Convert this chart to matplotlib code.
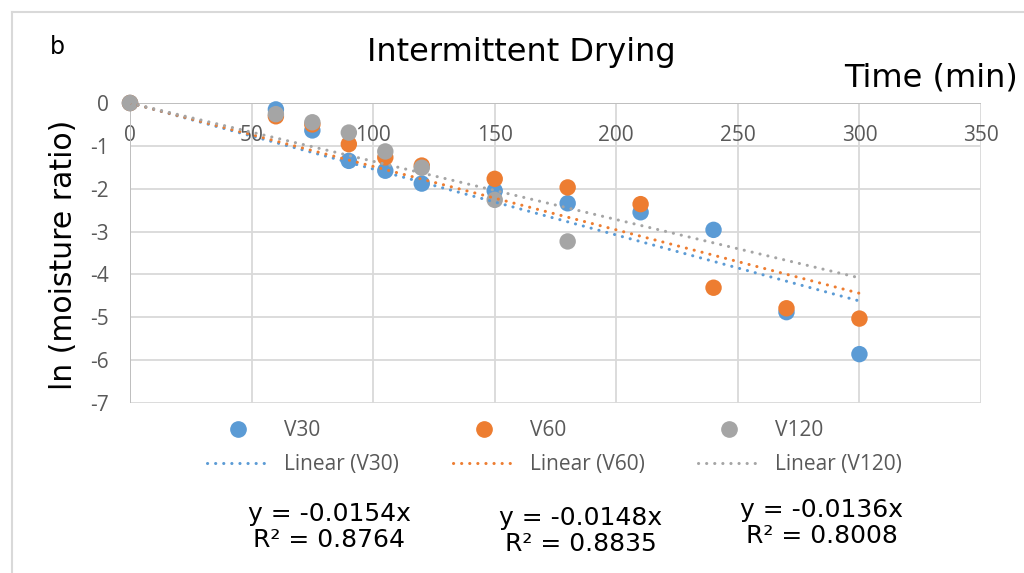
import numpy as np
import matplotlib
matplotlib.use("Agg")
import matplotlib.pyplot as plt
from matplotlib.lines import Line2D

# Messwerte: ln(MR) über der Zeit, intermittierende Trocknung
time_min = [0, 60, 75, 90, 105, 120, 150, 180, 210, 240, 270, 300]
ln_v30 = [0, -0.15, -0.64, -1.35, -1.58, -1.88, -2.05, -2.34, -2.55, -2.96, -4.88, -5.86]
ln_v60 = [0, -0.31, -0.50, -0.96, -1.27, -1.46, -1.77, -1.97, -2.36, -4.31, -4.79, -5.03]
ln_v120 = [0, -0.26, -0.45, -0.69, -1.13, -1.51, -2.26, -3.23, np.nan, np.nan, np.nan, np.nan]

series = ["V30", "V60", "V120"]
slopes = [-0.0154, -0.0148, -0.0136]
r2 = [0.8764, 0.8835, 0.8008]

x_ticks = [0, 50, 100, 150, 200, 250, 300, 350]
y_ticks = [0, -1, -2, -3, -4, -5, -6, -7]

COLORS = ["#5B9BD5", "#ED7D31", "#A5A5A5"]
TXT = "#595959"
GRID = "#D9D9D9"
FONT = ["Open Sans", "DejaVu Sans"]
VERD = ["DejaVu Sans"]
DOTS = (0, (0.05, 2.6))

plt.rcParams["font.family"] = FONT

W, H = 1024, 573
fig = plt.figure(figsize=(W / 100, H / 100), dpi=100)
ax = fig.add_axes([130 / W, 1 - 403 / H, 851 / W, 300 / H])

ys = [ln_v30, ln_v60, ln_v120]
t = np.array(time_min, dtype=float)
for name, y, c in zip(series, ys, COLORS):
    ax.scatter(t, y, s=140, color=c, edgecolors="none", zorder=3, clip_on=False)
for name, c, k in zip(series, COLORS, slopes):
    xx = np.array([0.0, t.max()])
    ax.plot(xx, k * xx, color=c, lw=2.2, linestyle=DOTS,
            dash_capstyle="round", zorder=4)

ax.set_xlim(0, 350)
ax.set_ylim(-7, 0)
ax.set_xticks(x_ticks)
ax.set_yticks(y_ticks)
ax.set_xticklabels([str(v) for v in x_ticks])
ax.set_yticklabels([str(v) for v in y_ticks])
ax.tick_params(axis="x", length=0, labelsize=15, labelcolor=TXT,
               labeltop=True, labelbottom=False, pad=-31)
ax.tick_params(axis="y", length=0, labelsize=15, labelcolor=TXT, pad=15)
ax.grid(True, color=GRID, lw=1.3, zorder=0)
ax.set_axisbelow(True)
for s in ax.spines.values():
    s.set_visible(False)
ax.axhline(0, color="#BFBFBF", lw=1.4, zorder=1)
ax.axvline(0, color="#BFBFBF", lw=1.4, zorder=1)

# Rahmen der Excel-Grafik
fig.add_artist(Line2D([12 / W, 1], [1 - 12 / H] * 2, color=GRID, lw=1.5))
fig.add_artist(Line2D([12 / W] * 2, [0, 1 - 12 / H], color=GRID, lw=1.5))

fig.text(57 / W, 1 - 47 / H, "b", fontsize=17, family=VERD, ha="center", va="center")
fig.text(521 / W, 1 - 52 / H, "Intermittent Drying", fontsize=23, family=VERD,
         ha="center", va="center")
fig.text(1018 / W, 1 - 78 / H, "Time (min)", fontsize=23, family=VERD,
         ha="right", va="center")
fig.text(64 / W, 1 - 255 / H, "ln (moisture ratio)", fontsize=21.5,
         family=VERD, rotation=90, ha="center", va="center")

# Legende: drei Spalten, je Punkt + Trendlinie
leg_x = [207, 453, 698]
for name, c, lx in zip(series, COLORS, leg_x):
    h_pt = Line2D([], [], marker="o", ls="none", color=c, markersize=11)
    h_ln = Line2D([], [], color=c, lw=2.2, linestyle=DOTS, dash_capstyle="round")
    fig.legend([h_pt, h_ln], [name, f"Linear ({name})"], loc="upper left",
               bbox_to_anchor=(lx / W, 1 - 420 / H), frameon=False,
               fontsize=15, labelcolor=TXT, borderpad=0, borderaxespad=0,
               handlelength=3.0, handletextpad=0.7, labelspacing=0.62)

eq_x = [329, 581, 822]
eq_y = [527, 531, 523]
for k, r, ex, ey in zip(slopes, r2, eq_x, eq_y):
    fig.text(ex / W, 1 - ey / H, f"y = {k:.4f}x\nR² = {r:.4f}", fontsize=18,
             family=VERD, ha="center", va="center", linespacing=1.1)

fig.savefig("out.png", dpi=100)
